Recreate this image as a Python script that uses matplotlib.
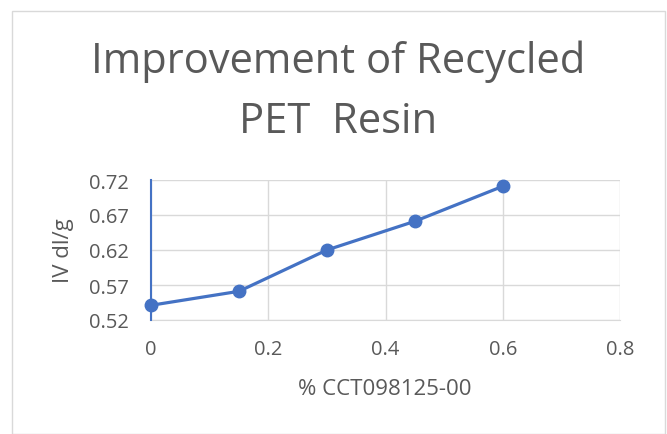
import matplotlib
matplotlib.use("Agg")
import matplotlib.pyplot as plt
from matplotlib.patches import Rectangle

# Data
cct_percent = [0, 0.15, 0.3, 0.45, 0.6]
iv_values = [0.541, 0.561, 0.620, 0.661, 0.711]
x_ticks = [0, 0.2, 0.4, 0.6, 0.8]
x_tick_labels = ["0", "0.2", "0.4", "0.6", "0.8"]
y_ticks = [0.52, 0.57, 0.62, 0.67, 0.72]
y_tick_labels = ["0.52", "0.57", "0.62", "0.67", "0.72"]
title = "Improvement of Recycled\nPET  Resin"
x_label = "% CCT098125-00"
y_label = "IV dl/g"

W, H = 667, 435
fig = plt.figure(figsize=(W / 100, H / 100), dpi=100)
plt.rcParams['font.family'] = ['Open Sans', 'DejaVu Sans']

# chart border
fig.patches.append(Rectangle((12 / W, 0), (665 - 12) / W, (H - 12) / H,
                             transform=fig.transFigure, fill=False,
                             edgecolor="#D9D9D9", linewidth=1.0))

ax = fig.add_axes([151 / W, 1 - 321 / H, (620 - 151) / W, (321 - 181) / H])
ax.plot(cct_percent, iv_values, color="#4472C4", linewidth=2.3,
        marker="o", markersize=9, zorder=5, clip_on=False)
ax.set_xlim(0, 0.8)
ax.set_ylim(0.52, 0.72)
ax.set_xticks(x_ticks)
ax.set_xticklabels(x_tick_labels)
ax.set_yticks(y_ticks)
ax.set_yticklabels(y_tick_labels)
ax.tick_params(length=0, labelsize=14.5, colors="#595959")
ax.tick_params(axis="y", pad=16)
ax.tick_params(axis="x", pad=14)
ax.grid(True, color="#D9D9D9", linewidth=1.0)
ax.set_axisbelow(True)
for s in ["top", "right"]:
    ax.spines[s].set_visible(False)
ax.spines["bottom"].set_color("#D9D9D9")
ax.spines["left"].set_color("#4472C4")
ax.spines["left"].set_linewidth(1.5)
ax.spines["left"].set_zorder(4)

fig.text(338 / W, 1 - 92 / H, title, ha="center", va="center",
         fontsize=30, color="#595959", linespacing=1.55)
fig.text(385 / W, 1 - 390 / H, x_label, ha="center", va="center",
         fontsize=16, color="#595959")
fig.text(63 / W, 1 - 251 / H, y_label, ha="center", va="center",
         rotation=90, fontsize=16, color="#595959")

fig.savefig("out.png", dpi=100)
